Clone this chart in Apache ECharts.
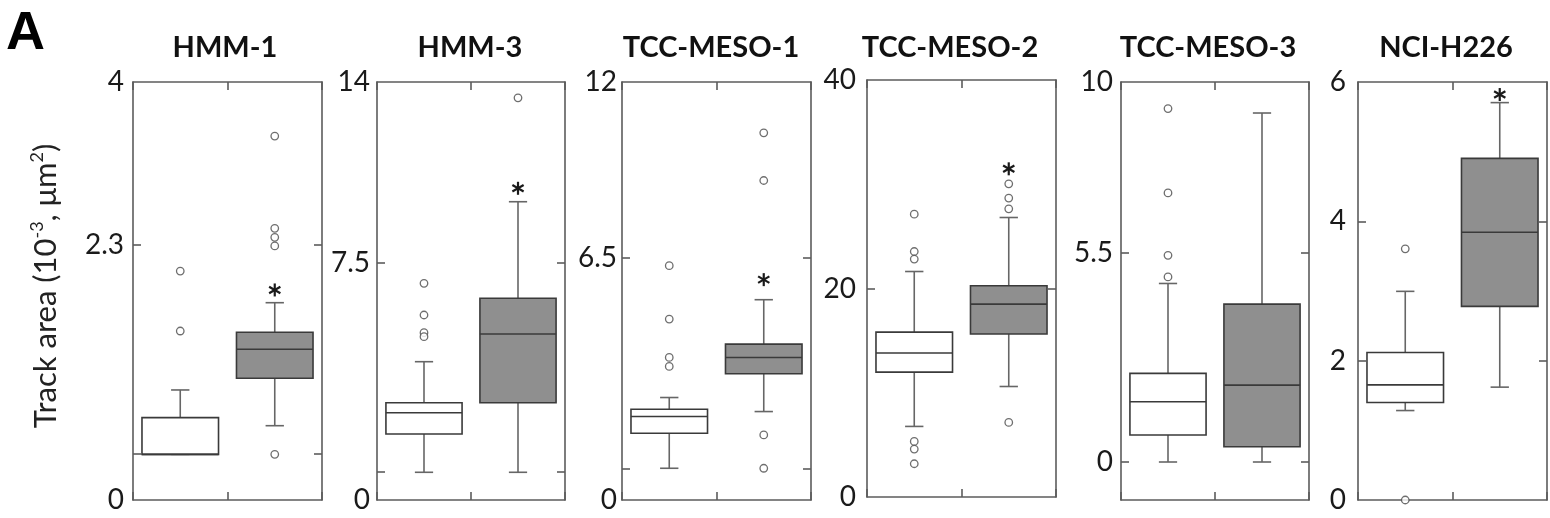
<!DOCTYPE html>
<html><head><meta charset="utf-8">
<script src="https://cdn.jsdelivr.net/npm/echarts@6/dist/echarts.min.js"></script>
<style>html,body{margin:0;padding:0;background:#fff}#c{width:1550px;height:518px}</style>
</head><body><div id="c"></div>
<script>
// ---------------- DATA ----------------
const panelNames = ['HMM-1', 'HMM-3', 'TCC-MESO-1', 'TCC-MESO-2', 'TCC-MESO-3', 'NCI-H226'];
const groups = ['Control', 'Treated'];

// box stats: [lower whisker, Q1, median, Q3, upper whisker]
const hmm1White = [0.437, 0.437, 0.437, 0.788, 1.053];
const hmm1Gray  = [0.711, 1.165, 1.442, 1.605, 1.888];
const hmm1WhiteOut = [1.617, 2.191];
const hmm1GrayOut  = [3.483, 2.600, 2.514, 2.431, 0.437];
const hmm1Star = [2.01];

const hmm3White = [0.928, 2.210, 2.924, 3.259, 4.632];
const hmm3Gray  = [0.928, 3.259, 5.559, 6.755, 9.990];
const hmm3WhiteOut = [7.257, 6.196, 5.604, 5.47];
const hmm3GrayOut  = [13.47];
const hmm3Star = [10.44];

const tcc1White = [0.911, 1.917, 2.396, 2.607, 2.942];
const tcc1Gray  = [2.539, 3.623, 4.092, 4.476, 5.750];
const tcc1WhiteOut = [6.728, 5.195, 4.092, 3.834];
const tcc1GrayOut  = [10.54, 9.172, 1.869, 0.911];
const tcc1Star = [6.326];

const tcc2White = [6.77, 11.98, 13.81, 15.82, 21.63];
const tcc2Gray  = [10.60, 15.63, 18.50, 20.26, 26.81];
const tcc2WhiteOut = [27.13, 23.55, 22.82, 5.33, 4.60, 3.19];
const tcc2GrayOut  = [30.04, 28.67, 27.64, 7.15];
const tcc2Star = [31.48];

const tcc3White = [0, 0.709, 1.585, 2.331, 4.698];
const tcc3Gray  = [0, 0.402, 2.024, 4.154, 9.184];
const tcc3WhiteOut = [9.30, 7.08, 5.44, 4.87];
const tcc3GrayOut  = [];
const tcc3Star = [];

const nciWhite = [1.284, 1.399, 1.653, 2.118, 2.995];
const nciGray  = [1.620, 2.779, 3.843, 4.903, 5.704];
const nciWhiteOut = [3.605, 0];
const nciGrayOut  = [];
const nciStar = [5.82];

// axis ranges and tick labels
const yMin = [0, 0, 0, 0, -1, 0];
const yMax = [4, 14, 12, 40, 10, 6];
const tickLabelValues = [[0, 2.44, 4], [0, 7.93, 14], [0, 6.95, 12], [0, 20, 40], [0, 5.5, 10], [0, 2, 4, 6]];
const tickLabelTexts  = [['0', '2.3', '4'], ['0', '7.5', '14'], ['0', '6.5', '12'], ['0', '20', '40'], ['0', '5.5', '10'], ['0', '2', '4', '6']];
const tickMarkValues  = [[0.44, 2.44], [0.93, 7.93], [0.91, 6.95], [20], [0, 5.5], [2, 4]];

const yTitle = 'Track area (10{s|-3}, μm{s|2})';
const panelLetter = 'A';

// ---------------- LAYOUT ----------------
const whites = [hmm1White, hmm3White, tcc1White, tcc2White, tcc3White, nciWhite];
const grays = [hmm1Gray, hmm3Gray, tcc1Gray, tcc2Gray, tcc3Gray, nciGray];
const whiteOuts = [hmm1WhiteOut, hmm3WhiteOut, tcc1WhiteOut, tcc2WhiteOut, tcc3WhiteOut, nciWhiteOut];
const grayOuts = [hmm1GrayOut, hmm3GrayOut, tcc1GrayOut, tcc2GrayOut, tcc3GrayOut, nciGrayOut];
const stars = [hmm1Star, hmm3Star, tcc1Star, tcc2Star, tcc3Star, nciStar];

const gridLeft = [133, 377, 622, 867, 1121, 1358];
const gridWidth = [189, 188, 189, 189, 188, 189];
const gridTop = [82, 82, 82, 80, 82, 82];
const gridHeight = [418, 418, 418, 417, 418, 418];
const labelMargin = [9, 7, 5, 11, 8, 12];
const titleX = [225, 470, 711, 950, 1208, 1446];

const frame = { color: '#5c5c5c', width: 1.6 };
const FONT = 'Lato, "Open Sans", sans-serif';

function renderBox(params, api) {
  const c = api.value(0);
  const low = api.value(1), q1 = api.value(2), med = api.value(3), q3 = api.value(4), high = api.value(5);
  const band = api.size([1, 0])[0];
  const half = band * 0.405, cap = band * 0.097;
  const pL = api.coord([c, low]), p1 = api.coord([c, q1]), pM = api.coord([c, med]),
        p3 = api.coord([c, q3]), pH = api.coord([c, high]);
  const x = pL[0];
  const fill = c === 0 ? '#ffffff' : '#8f8f8f';
  const w = { stroke: '#666666', lineWidth: 1.6 };
  const b = { stroke: '#3a3a3a', lineWidth: 1.6 };
  return { type: 'group', children: [
    { type: 'line', shape: { x1: x, y1: pL[1], x2: x, y2: p1[1] }, style: w },
    { type: 'line', shape: { x1: x, y1: p3[1], x2: x, y2: pH[1] }, style: w },
    { type: 'line', shape: { x1: x - cap, y1: pL[1], x2: x + cap, y2: pL[1] }, style: w },
    { type: 'line', shape: { x1: x - cap, y1: pH[1], x2: x + cap, y2: pH[1] }, style: w },
    { type: 'rect', shape: { x: x - half, y: p3[1], width: 2 * half, height: p1[1] - p3[1] },
      style: { fill: fill, stroke: '#3a3a3a', lineWidth: 1.6 } },
    { type: 'line', shape: { x1: x - half, y1: pM[1], x2: x + half, y2: pM[1] }, style: b }
  ]};
}

function renderStar(params, api) {
  const p = api.coord([api.value(0), api.value(1)]);
  const r = 6.5;
  const children = [90, 30, 150].map(function (deg) {
    const a = deg * Math.PI / 180;
    return { type: 'line', shape: { x1: p[0] - r * Math.cos(a), y1: p[1] - r * Math.sin(a),
      x2: p[0] + r * Math.cos(a), y2: p[1] + r * Math.sin(a) }, style: { stroke: '#1a1a1a', lineWidth: 2.2 } };
  });
  return { type: 'group', children: children };
}

const grid = [], xAxis = [], yAxis = [], series = [], graphic = [];
for (let i = 0; i < 6; i++) {
  grid.push({ left: gridLeft[i], top: gridTop[i], width: gridWidth[i], height: gridHeight[i] });
  ['bottom', 'top'].forEach(function (pos) {
    xAxis.push({ gridIndex: i, type: 'category', data: groups, position: pos, boundaryGap: true,
      axisLine: { show: true, onZero: false, lineStyle: frame },
      axisTick: { show: true, inside: true, length: 8, lineStyle: frame },
      axisLabel: { show: false }, splitLine: { show: false } });
  });
  const labVals = tickLabelValues[i], labTxt = tickLabelTexts[i];
  ['left', 'right'].forEach(function (pos) {
    yAxis.push({ gridIndex: i, type: 'value', min: yMin[i], max: yMax[i], position: pos,
      axisLine: { show: true, onZero: false, lineStyle: frame },
      axisTick: { show: true, inside: true, length: 8, customValues: tickMarkValues[i], lineStyle: frame },
      axisLabel: { show: pos === 'left', customValues: labVals, margin: labelMargin[i],
        fontSize: 28, fontFamily: FONT, color: '#1a1a1a',
        formatter: function (v) {
          let best = 0;
          for (let k = 0; k < labVals.length; k++) if (Math.abs(labVals[k] - v) < Math.abs(labVals[best] - v)) best = k;
          return labTxt[best];
        } },
      splitLine: { show: false } });
  });
  series.push({ type: 'custom', xAxisIndex: 2 * i, yAxisIndex: 2 * i, renderItem: renderBox,
    data: [[0].concat(whites[i]), [1].concat(grays[i])], z: 2 });
  series.push({ type: 'scatter', xAxisIndex: 2 * i, yAxisIndex: 2 * i, symbol: 'circle', symbolSize: 7.5,
    itemStyle: { color: '#ffffff', borderColor: '#4a4a4a', borderWidth: 1.3 },
    data: whiteOuts[i].map(function (v) { return [0, v]; }).concat(grayOuts[i].map(function (v) { return [1, v]; })), z: 3 });
  series.push({ type: 'custom', xAxisIndex: 2 * i, yAxisIndex: 2 * i, renderItem: renderStar,
    data: stars[i].map(function (v) { return [1, v]; }), z: 4 });
  graphic.push({ type: 'text', x: titleX[i], y: 48, style: { text: panelNames[i], fill: '#111',
    font: 'bold 29px ' + FONT, textAlign: 'center', textVerticalAlign: 'middle' } });
}
graphic.push({ type: 'text', x: 6, y: 34, style: { text: panelLetter, fill: '#000',
  font: 'bold 54px "Liberation Sans", Arial, sans-serif', textAlign: 'left', textVerticalAlign: 'middle' } });
graphic.push({ type: 'text', x: 46, y: 286, rotation: Math.PI / 2, style: {
  text: yTitle, fill: '#222', font: '31px ' + FONT, textAlign: 'center', textVerticalAlign: 'middle',
  rich: { s: { fontSize: 18, fontFamily: FONT, verticalAlign: 'top', lineHeight: 36, fill: '#222' } } } });

const chart = echarts.init(document.getElementById('c'), null, { renderer: 'canvas' });
chart.setOption({ animation: false, backgroundColor: '#ffffff', grid: grid, xAxis: xAxis, yAxis: yAxis,
  series: series, graphic: graphic });
</script></body></html>
